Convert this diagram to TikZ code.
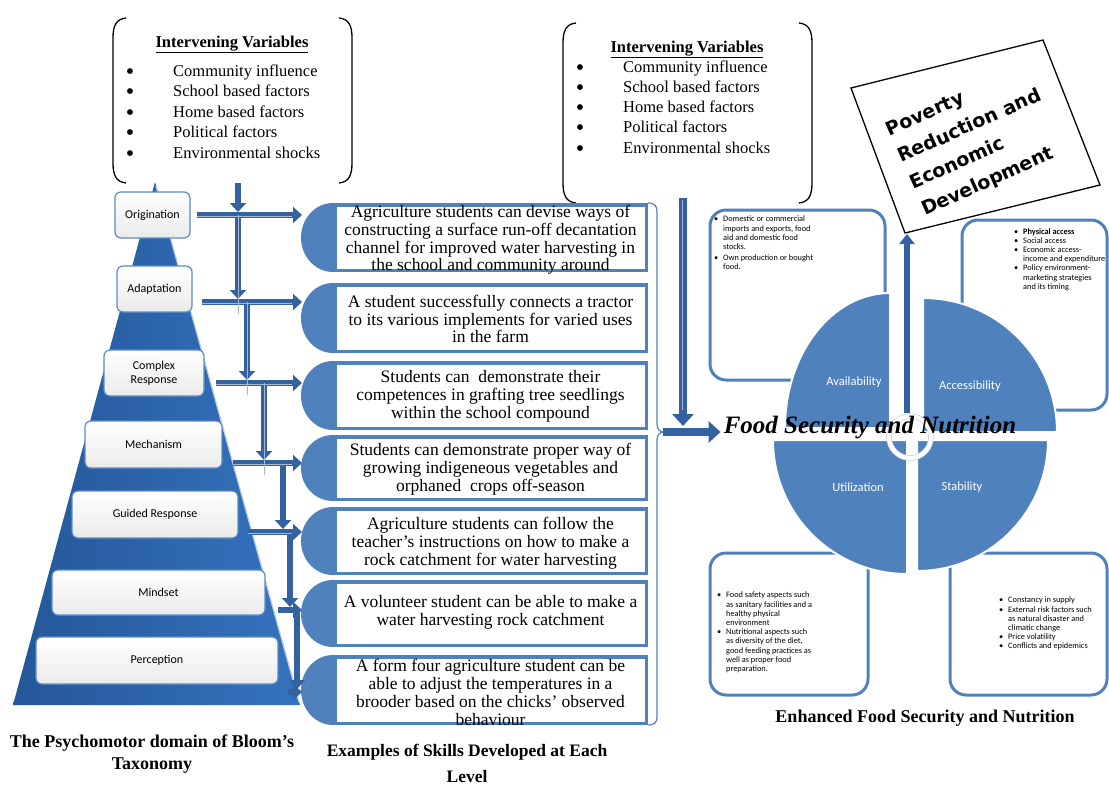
\documentclass[tikz,border=0pt]{standalone}
\usepackage{fontspec}
\setmainfont{Liberation Serif}
\newfontfamily\calib{Carlito}
\newfontfamily\povf{DejaVu Sans}
\usetikzlibrary{arrows.meta}
\definecolor{pyrblue}{HTML}{3573BE}
\definecolor{pyrdark}{HTML}{245798}
\definecolor{arrblue}{HTML}{34619F}
\definecolor{wedge}{HTML}{4F81BD}
\definecolor{lvlline}{HTML}{5B8CC8}
\newcommand{\bl}{\makebox[9pt][l]{\textbullet}}
\newcommand{\ind}{\hspace*{9pt}}
\begin{document}
\begin{tikzpicture}[x=1pt,y=-1pt,
  ivbrk/.style={draw=black,line width=1.3pt},
  ivtitle/.style={anchor=base,inner sep=0pt,font=\fontsize{16.5}{19}\selectfont\bfseries},
  ivitem/.style={anchor=base west,inner sep=0pt,font=\fontsize{16.5}{19}\selectfont},
  ivbul/.style={anchor=base,inner sep=0pt,font=\fontsize{24}{24}\selectfont},
  lvl/.style={draw=lvlline,line width=1.2pt,rounded corners=6pt,top color=white,bottom color=gray!16,
    font=\calib\fontsize{12}{14}\selectfont,align=center,inner sep=0pt},
  skillbox/.style={draw=wedge,line width=3.5pt,fill=white,inner sep=0pt,minimum width=311.5},
  skilltxt/.style={align=center,inner sep=0pt,font=\fontsize{17.5}{17.8}\selectfont},
  stair/.style={draw=arrblue,line width=6.5pt,-{Triangle[length=9pt,width=16pt]}},
  shine/.style={draw=arrblue!45!white,line width=1pt},
  bigarr/.style={draw=arrblue,line width=8pt,-{Triangle[length=12pt,width=21pt]}},
  uparr/.style={draw=arrblue,line width=6pt,-{Triangle[length=10pt,width=15pt]}},
  qbox/.style={draw=wedge,line width=3pt,rounded corners=16pt,fill=white,inner sep=0pt},
  qtxt/.style={anchor=north west,align=left,inner sep=0pt,font=\calib\fontsize{8.3}{9.2}\selectfont},
  wedgest/.style={fill=wedge,draw=white,line width=2pt},
  qlabel/.style={text=white,inner sep=0pt,font=\calib\fontsize{12.5}{14}\selectfont},
  captxt/.style={align=center,inner sep=0pt,font=\fontsize{18}{22}\selectfont\bfseries}
]
\useasboundingbox (0,0) rectangle (1109,785);
\fill[white] (0,0) rectangle (1109,785);

% ---------- left intervening variables
\draw[ivbrk] (126,18) .. controls (116,19) and (113,26) .. (113,38) -- (113,163) .. controls (113,175) and (116,182) .. (126,183);
\draw[ivbrk] (339,18) .. controls (349,19) and (352,26) .. (352,38) -- (352,163) .. controls (352,175) and (349,182) .. (339,183);
\node[ivtitle] (ivAt) at (232,47) {\underline{Intervening Variables}};
\foreach \t [count=\i] in {Community influence,School based factors,Home based factors,Political factors,Environmental shocks}{
  \node[ivbul] (ivAb\i) at (130,79+20.5*\i-20.5) {\textbullet};
  \node[ivitem] (ivA\i) at (173,76+20.5*\i-20.5) {\t};
}

% ---------- right intervening variables
\draw[ivbrk] (576,23) .. controls (566,24) and (563,31) .. (563,43) -- (563,183) .. controls (563,195) and (566,202) .. (576,203);
\draw[ivbrk] (799,23) .. controls (809,24) and (812,31) .. (812,43) -- (812,183) .. controls (812,195) and (809,202) .. (799,203);
\node[ivtitle] (ivBt) at (687,52) {\underline{Intervening Variables}};
\foreach \t [count=\i] in {Community influence,School based factors,Home based factors,Political factors,Environmental shocks}{
  \node[ivbul] (ivBb\i) at (580,75+20.25*\i-20.25) {\textbullet};
  \node[ivitem] (ivB\i) at (623,72+20.25*\i-20.25) {\t};
}

% ---------- pyramid
\shade[left color=pyrdark,right color=pyrblue] (155,182) -- (300,705) -- (13,705) -- cycle;
\draw[white!65!pyrblue,line width=1.2pt] (156,186) -- (299,702);
\node[lvl,minimum width=75,minimum height=46] (p1) at (152.5,215) {Origination};
\node[lvl,minimum width=75,minimum height=46] (p2) at (154.5,289) {Adaptation};
\node[lvl,minimum width=100,minimum height=46] (p3) at (154,373) {Complex\\Response};
\node[lvl,minimum width=137,minimum height=47] (p4) at (153.5,444.5) {Mechanism};
\node[lvl,minimum width=166,minimum height=47] (p5) at (155,514.5) {Guided Response};
\node[lvl,minimum width=213,minimum height=45] (p6) at (158.5,592.5) {Mindset};
\node[lvl,minimum width=242,minimum height=47] (p7) at (157,660.5) {Perception};

% ---------- skill boxes
\node[skillbox,minimum height=65.5] (s1) at (490.5,237.5) {};
\node[skillbox,minimum height=66.5] (s2) at (490.5,318) {};
\node[skillbox,minimum height=65.5] (s3) at (490.5,395.5) {};
\node[skillbox,minimum height=62.5] (s4) at (490.5,468) {};
\node[skillbox,minimum height=64.5] (s5) at (490.5,541) {};
\node[skillbox,minimum height=63.5] (s6) at (490.5,613.5) {};
\node[skillbox,minimum height=66.5] (s7) at (490.5,690) {};
\fill[wedge] (s1.north west) arc[start angle=270,end angle=90,x radius=32,y radius=34.5] -- cycle;
\fill[wedge] (s2.north west) arc[start angle=270,end angle=90,x radius=32,y radius=35] -- cycle;
\fill[wedge] (s3.north west) arc[start angle=270,end angle=90,x radius=32,y radius=34.5] -- cycle;
\fill[wedge] (s4.north west) arc[start angle=270,end angle=90,x radius=32,y radius=33] -- cycle;
\fill[wedge] (s5.north west) arc[start angle=270,end angle=90,x radius=32,y radius=34] -- cycle;
\fill[wedge] (s6.north west) arc[start angle=270,end angle=90,x radius=32,y radius=33.5] -- cycle;
\fill[wedge] (s7.north west) arc[start angle=270,end angle=90,x radius=32,y radius=35] -- cycle;
\node[skilltxt] (s1t) at (490.5,240) {Agriculture students can devise ways of\\constructing a surface run-off decantation\\channel for improved water harvesting in\\the school and community around};
\node[skilltxt] (s2t) at (490.5,319) {A student successfully connects a tractor\\to its various implements for varied uses\\in the farm};
\node[skilltxt] (s3t) at (490.5,396.5) {Students can\ \ demonstrate their\\competences in grafting tree seedlings\\within the school compound};
\node[skilltxt] (s4t) at (490.5,469) {Students can demonstrate proper way of\\growing indigeneous vegetables and\\orphaned\ \ crops off-season};
\node[skilltxt] (s5t) at (490.5,543) {Agriculture students can follow the\\teacher’s instructions on how to make a\\rock catchment for water harvesting};
\node[skilltxt] (s6t) at (490.5,612) {A volunteer student can be able to make a\\water harvesting rock catchment};
\node[skilltxt] (s7t) at (490.5,692.5) {A form four agriculture student can be\\able to adjust the temperatures in a\\brooder based on the chicks’ observed\\behaviour};

% ---------- staircase arrows
\coordinate (t0) at (238,183);
\coordinate (hs1) at (197,215);
\coordinate (hs2) at (202,302);
\coordinate (hs3) at (216,383);
\coordinate (hs4) at (233,463);
\coordinate (hs5) at (248,532);
\coordinate (hs6) at (278,610);
\coordinate (hs7) at (288,692);
\coordinate (d1) at (302,0);
\coordinate (d2) at (292,0);
\coordinate (v1) at (238,0);
\coordinate (v2) at (247,0);
\coordinate (v3) at (264,0);
\coordinate (v4) at (283,0);
\coordinate (v5) at (290,0);
\coordinate (v6) at (297,0);
\draw[stair,shorten >=3pt] (t0) -- (t0 |- hs1);
\draw[stair,shorten >=3pt] (v1 |- hs1) -- (v1 |- hs2);
\draw[stair,shorten >=3pt] (v2 |- hs2) -- (v2 |- hs3);
\draw[stair,shorten >=3pt] (v3 |- hs3) -- (v3 |- hs4);
\draw[stair,shorten >=3pt] (v4 |- hs4) -- (v4 |- hs5);
\draw[stair,shorten >=3pt] (v5 |- hs5) -- (v5 |- hs6);
\draw[stair,shorten >=3pt] (v6 |- hs6) -- (v6 |- hs7);
\foreach \k in {1,...,7}{\draw[stair] (hs\k) -- (hs\k -| d1);}
\foreach \k in {1,...,5}{\draw[shine] ([yshift=-1pt]hs\k) -- ([yshift=-1pt]hs\k -| d2);}
\draw[shine] (v1 |- hs1) -- ([yshift=-12pt]v1 |- hs2);
\draw[shine] (v2 |- hs2) -- ([yshift=-12pt]v2 |- hs3);
\draw[shine] (v3 |- hs3) -- ([yshift=-12pt]v3 |- hs4);

% ---------- brace line and big arrows
\draw[wedge,line width=1.2pt] (648,203) .. controls (655,203) and (657,206) .. (657,212) -- (657,424) .. controls (657,429) and (660,432) .. (663,432) .. controls (660,432) and (657,435) .. (657,440) -- (657,717) .. controls (657,722) and (655,725) .. (648,725);
\coordinate (vtop) at (683,198);
\coordinate (vbot) at (683,426);
\coordinate (brtip) at (663,432);
\draw[bigarr] (vtop) -- (vbot);
\draw[shine] (682,200) -- (682,410);

% ---------- quadrant boxes
\node[qbox,minimum width=175,minimum height=170] (qb1) at (797.5,295) {};
\node[qbox,minimum width=145,minimum height=190] (qb2) at (1034.5,315) {};
\node[qbox,minimum width=158,minimum height=142] (qb3) at (789,624) {};
\node[qbox,minimum width=157,minimum height=142] (qb4) at (1028.5,624) {};
\node[qtxt] (qt1) at (714,216) {\bl Domestic or commercial\\\ind imports and exports, food\\\ind aid and domestic food\\\ind stocks.\\[1.5pt]\bl Own production or bought\\\ind food.};
\node[qtxt] (qt2) at (1014,228) {\bl \textbf{Physical access}\\\bl Social access\\\bl Economic access-\\\ind income and expenditure\\\bl Policy environment-\\\ind marketing strategies\\\ind and its timing};
\node[qtxt] (qt3) at (717,592) {\bl Food safety aspects such\\\ind as sanitary facilities and a\\\ind healthy physical\\\ind environment\\\bl Nutritional aspects such\\\ind as diversity of the diet,\\\ind good feeding practices as\\\ind well as proper food\\\ind preparation.};
\node[qtxt] (qt4) at (999,597) {\bl Constancy in supply\\\bl External risk factors such\\\ind as natural disaster and\\\ind climatic change\\\bl Price volatility\\\bl Conflicts and epidemics};

% ---------- wedges
\filldraw[wedgest] (890,428) -- (785,428) arc[start angle=180,end angle=270,x radius=105,y radius=135] -- cycle;
\filldraw[wedgest] (923,432) -- (923,298) arc[start angle=270,end angle=360,radius=134] -- cycle;
\filldraw[wedgest] (907,440) -- (773,440) arc[start angle=180,end angle=90,radius=134] -- cycle;
\filldraw[wedgest] (917,440) -- (1048,440) arc[start angle=0,end angle=90,radius=131] -- cycle;
\node[qlabel] (la) at (854,382) {Availability};
\node[qlabel] (lb) at (970,386) {Accessibility};
\node[qlabel] (lc) at (858,487) {Utilization};
\node[qlabel] (ld) at (962,487) {Stability};
\draw[gray!35,line width=5.5pt] (910,437) circle[radius=21];
\draw[white,line width=4pt] (910,437) circle[radius=21];

% ---------- poverty box
\draw[black,line width=1.3pt,fill=white] (851,88) -- (1043,40) -- (1100,185) -- (905,233) -- cycle;
\node[rotate=24,align=left,inner sep=0pt,font=\povf\bfseries\fontsize{19}{29}\selectfont] (povt) at (976,140) {Poverty\\Reduction and\\Economic\\Development};
\coordinate (ringtop) at (907,413);
\coordinate (povbot) at (907,234);
\draw[uparr] (ringtop) -- (povbot);

% ---------- food security text and arrow
\node[inner sep=3pt,font=\fontsize{25}{30}\selectfont\bfseries\itshape] (fsn) at (870,428) {Food Security and Nutrition};
\draw[bigarr] (brtip) -- (brtip -| fsn.west);

% ---------- captions
\node[captxt] (c1) at (152,754) {The Psychomotor domain of Bloom’s\\Taxonomy};
\node[captxt,font=\fontsize{17.5}{26}\selectfont\bfseries] (c2) at (467,763) {Examples of Skills Developed at Each\\Level};
\node[captxt] (c3) at (925,718) {Enhanced Food Security and Nutrition};
\end{tikzpicture}
\end{document}
